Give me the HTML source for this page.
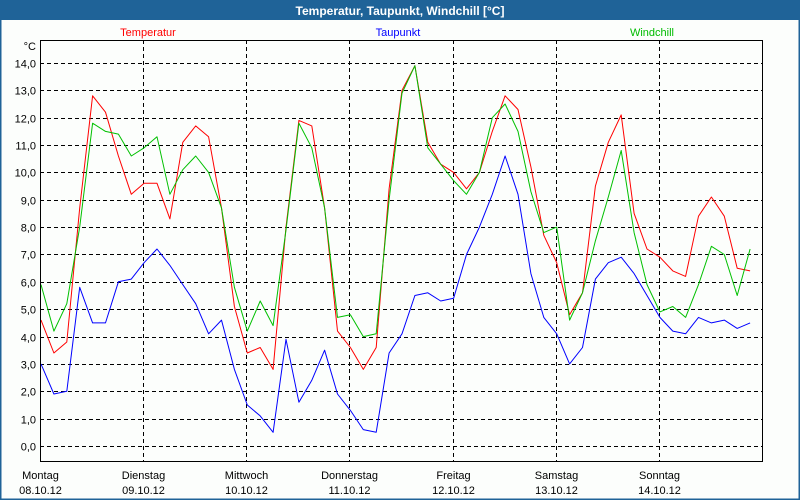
<!DOCTYPE html>
<html><head><meta charset="utf-8">
<style>
html,body{margin:0;padding:0;background:#fff;}
#wrap{position:relative;width:800px;height:500px;overflow:hidden;font-family:"Liberation Sans",sans-serif;}
svg text{font-family:"Liberation Sans",sans-serif;}
</style></head>
<body>
<div id="wrap">
<svg id="chart" width="800" height="500" viewBox="0 0 800 500" xmlns="http://www.w3.org/2000/svg">
  <rect x="0" y="0" width="800" height="500" fill="#fcfefc"/>
  <rect x="0.5" y="0.5" width="799" height="499" fill="none" stroke="#1f6398" stroke-width="2"/>
  <rect x="0" y="0" width="800" height="20" fill="#1f6398"/>
  <text x="400" y="15" text-anchor="middle" fill="#fff" font-size="12" font-weight="bold">Temperatur, Taupunkt, Windchill [°C]</text>
  <text x="148" y="36" text-anchor="middle" fill="#ff0000" font-size="11">Temperatur</text>
  <text x="398" y="36" text-anchor="middle" fill="#0000ff" font-size="11">Taupunkt</text>
  <text x="652" y="36" text-anchor="middle" fill="#00bb00" font-size="11">Windchill</text>
  <text x="36" y="50" text-anchor="end" fill="#000" font-size="11">°C</text>
  <g id="grid"></g>
  <g id="series"></g>
  <g id="axes"></g>
</svg>
</div>
<script>
const yTicks = [0,1,2,3,4,5,6,7,8,9,10,11,12,13,14];
const dayNames = ["Montag","Dienstag","Mittwoch","Donnerstag","Freitag","Samstag","Sonntag"];
const dayDates = ["08.10.12","09.10.12","10.10.12","11.10.12","12.10.12","13.10.12","14.10.12"];
const temperatur = [4.6,3.4,3.8,8.7,12.8,12.2,10.6,9.2,9.6,9.6,8.3,11.1,11.7,11.3,8.7,5.1,3.4,3.6,2.8,8.0,11.9,11.7,8.7,4.2,3.6,2.8,3.6,9.4,13.0,13.9,11.1,10.3,10.0,9.4,10.0,11.5,12.8,12.3,10.2,7.7,6.7,4.8,5.6,9.5,11.1,12.1,8.5,7.2,6.9,6.4,6.2,8.4,9.1,8.4,6.5,6.4];
const taupunkt = [3.0,1.9,2.0,5.8,4.5,4.5,6.0,6.1,6.7,7.2,6.6,5.9,5.2,4.1,4.6,2.8,1.5,1.1,0.5,3.9,1.6,2.4,3.5,1.9,1.3,0.6,0.5,3.4,4.1,5.5,5.6,5.3,5.4,7.0,8.0,9.2,10.6,9.2,6.3,4.7,4.1,3.0,3.6,6.1,6.7,6.9,6.3,5.5,4.7,4.2,4.1,4.7,4.5,4.6,4.3,4.5];
const windchill = [5.9,4.2,5.2,8.0,11.8,11.5,11.4,10.6,10.9,11.3,9.2,10.1,10.6,10.0,8.7,5.8,4.2,5.3,4.4,7.9,11.8,10.9,8.7,4.7,4.8,4.0,4.1,9.0,12.9,13.9,10.9,10.3,9.7,9.2,10.0,12.0,12.5,11.5,9.3,7.8,8.0,4.6,5.6,7.5,9.1,10.8,7.8,5.9,4.9,5.1,4.7,5.9,7.3,7.0,5.5,7.2];

const NS = "http://www.w3.org/2000/svg";
const PL = 40, PR = 762, PT = 40, PB = 461;
const Y0 = 446, YPER = 27.36;
const DAYW = (PR - PL) / 7;
const STEP = DAYW / 8;
function yScale(v){ return Y0 - v * YPER; }
function xScale(i){ return PL + 1 + i * STEP; }
function mk(tag, attrs, parent){
  const e = document.createElementNS(NS, tag);
  for (const k in attrs) e.setAttribute(k, attrs[k]);
  parent.appendChild(e);
  return e;
}
const grid = document.getElementById("grid");
const axes = document.getElementById("axes");
const series = document.getElementById("series");

yTicks.forEach(function(t){
  const y = Math.round(yScale(t)) + 0.5;
  const ln = mk("line", {x1: PL, x2: PR, y1: y, y2: y, stroke: "#000", "stroke-width": 1, "stroke-dasharray": "4,3"}, grid);
  
  
  const tx = mk("text", {x: 36, y: y + 4, "text-anchor": "end", "font-size": 11, fill: "#000"}, axes);
  tx.textContent = t.toFixed(1).replace(".", ",");
  
  
});

dayNames.forEach(function(d, i){
  const x = Math.round(PL + i * DAYW) + 0.5;
  if (i > 0) {
    const ln = mk("line", {x1: x, x2: x, y1: PT, y2: PB, stroke: "#000", "stroke-width": 1, "stroke-dasharray": "4,3"}, grid);
    
    
  }
  const t1 = mk("text", {x: x, y: 479, "text-anchor": "middle", "font-size": 11, fill: "#000"}, axes);
  t1.textContent = d;
  
  
  const t2 = mk("text", {x: x, y: 494, "text-anchor": "middle", "font-size": 11, fill: "#000"}, axes);
  t2.textContent = dayDates[i];
  
  
});

const frame = mk("rect", {x: PL + 0.5, y: PT + 0.5, width: PR - PL, height: PB - PT, fill: "none", stroke: "#000", "stroke-width": 1}, axes);



function drawSeries(arr, color, name){
  const pts = arr.map(function(v, i){ return xScale(i).toFixed(1) + "," + yScale(v).toFixed(1); }).join(" ");
  const pl = mk("polyline", {points: pts, fill: "none", stroke: color, "stroke-width": 1, "stroke-linejoin": "round"}, series);
  
  
}
drawSeries(taupunkt, "#0000ff", "taupunkt-line");
drawSeries(temperatur, "#ff0000", "temperatur-line");
drawSeries(windchill, "#00c000", "windchill-line");
</script>
</body></html>
